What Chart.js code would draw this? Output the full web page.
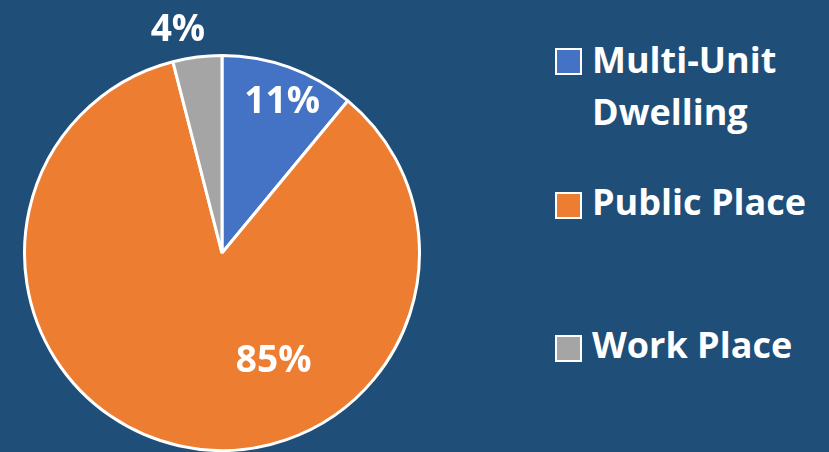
<!DOCTYPE html>
<html><head><meta charset="utf-8">
<script src="https://cdn.jsdelivr.net/npm/chart.js@4"></script>
<style>
html,body{margin:0;padding:0;background:#1F4E79;}
#wrap{position:relative;width:829px;height:452px;background:#1F4E79;overflow:hidden;}
#cv{position:absolute;left:0;top:0;}
.leg{position:absolute;left:555px;font-family:"Open Sans",Lato,sans-serif;font-weight:bold;color:#fff;font-size:36px;line-height:52px;}
.leg .box{position:absolute;left:0;width:23px;height:23px;border:2px solid #fff;}
.leg .txt{position:absolute;left:37px;white-space:nowrap;}
</style></head>
<body><div id="wrap"><canvas id="cv" width="444" height="452"></canvas><div id="legend"></div></div>
<script>
const categories = ["Multi-Unit Dwelling", "Public Place", "Work Place"];
const legendLines = [["Multi-Unit", "Dwelling"], ["Public Place"], ["Work Place"]];
const values = [11, 85, 4];
const percentLabels = ["11%", "85%", "4%"];
const colors = ["#4472C4", "#ED7D31", "#A5A5A5"];
// label placement: radial fraction of radius, angle shift (deg) from slice middle
const labelRadius = [0.82, 0.61, 1.15];
const labelShift = [2, -38, -4];
const legendTops = [38, 180, 323];
const legendBoxTops = [48, 192, 335];

const lg = document.getElementById('legend');
categories.forEach((c, i) => {
  const d = document.createElement('div');
  d.className = 'leg';
  d.style.top = '0px';
  const b = document.createElement('div');
  b.className = 'box';
  b.style.background = colors[i];
  b.style.top = legendBoxTops[i] + 'px';
  d.appendChild(b);
  legendLines[i].forEach((t, j) => {
    const s = document.createElement('div');
    s.className = 'txt';
    s.textContent = t;
    s.style.top = (legendTops[i] + j * 52 - 4) + 'px';
    d.appendChild(s);
  });
  lg.appendChild(d);
});

const labelPlugin = {
  id: 'pctLabels',
  afterDatasetsDraw(chart) {
    const ctx = chart.ctx;
    const meta = chart.getDatasetMeta(0);
    ctx.save();
    ctx.font = 'bold 37px "Open Sans", Lato, sans-serif';
    ctx.fillStyle = '#fff';
    ctx.textAlign = 'center';
    ctx.textBaseline = 'middle';
    meta.data.forEach((arc, i) => {
      const p = arc.getProps(['x', 'y', 'startAngle', 'endAngle', 'outerRadius'], true);
      const mid = (p.startAngle + p.endAngle) / 2 + labelShift[i] * Math.PI / 180;
      const r = p.outerRadius * labelRadius[i];
      ctx.fillText(percentLabels[i], p.x + Math.cos(mid) * r, p.y + Math.sin(mid) * r);
    });
    ctx.restore();
  }
};

new Chart(document.getElementById('cv'), {
  type: 'pie',
  data: {
    labels: categories,
    datasets: [{ data: values, backgroundColor: colors, borderColor: '#fff', borderWidth: 3 }]
  },
  options: {
    responsive: false,
    animation: false,
    layout: { padding: { top: 54, bottom: 0, left: 23, right: 23 } },
    plugins: { legend: { display: false }, tooltip: { enabled: false } }
  },
  plugins: [labelPlugin]
});
</script></body></html>
